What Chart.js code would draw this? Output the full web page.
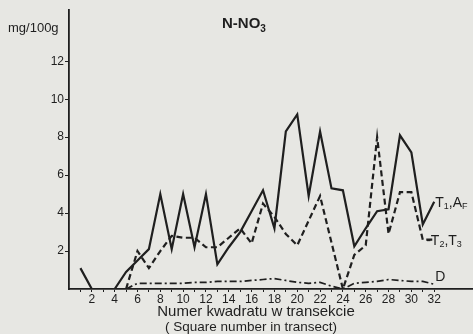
<!DOCTYPE html>
<html><head><meta charset="utf-8">
<script src="https://cdn.jsdelivr.net/npm/chart.js@4/dist/chart.umd.min.js"></script>
<style>
html,body{margin:0;padding:0;background:#e7e7e3;}
#wrap{width:473px;height:334px;position:relative;}
</style></head>
<body><div id="wrap"><canvas id="c" width="473" height="334"></canvas></div>
<script>
const squares = [1,2,3,4,5,6,7,8,9,10,11,12,13,14,15,16,17,18,19,20,21,22,23,24,25,26,27,28,29,30,31,32];
const seriesT1AF = [1.1,0,0,0,0.9,1.5,2.1,5.0,2.1,5.0,2.2,5.0,1.3,2.2,3.0,4.1,5.2,3.2,8.3,9.2,4.9,8.3,5.3,5.2,2.25,3.2,4.1,4.2,8.1,7.2,3.4,4.6];
const seriesT2T3 = [null,null,null,null,0,2.0,1.1,2.0,2.8,2.7,2.7,2.2,2.2,2.7,3.2,2.4,4.5,3.8,2.9,2.3,3.6,4.9,2.45,0,1.8,2.3,8.0,2.9,5.1,5.1,2.6,2.6];
const seriesD = [null,null,null,null,0,0.3,0.3,0.3,0.3,0.3,0.35,0.35,0.4,0.4,0.4,0.45,0.5,0.55,0.45,0.35,0.3,0.35,0.15,0,0.3,0.35,0.4,0.5,0.45,0.4,0.4,0.25];
const yTickLabels = [2,4,6,8,10,12];
const xTickLabels = [2,4,6,8,10,12,14,16,18,20,22,24,26,28,30,32];
const ink = '#1f1f1f';

function pts(arr){ return squares.map((s,i)=>({x:s,y:arr[i]})); }

const textPlugin = {
  id:'texts',
  afterDraw(chart){
    const ctx = chart.ctx, xs = chart.scales.x, ys = chart.scales.y;
    ctx.save();
    ctx.fillStyle = ink;
    ctx.textBaseline = 'middle';
    ctx.textAlign = 'left';
    ctx.font = '13px "Liberation Sans"';
    ctx.fillText('mg/100g', 8, 28);
    ctx.font = 'bold 15px "Liberation Sans"';
    ctx.fillText('N-NO', 222, 24);
    let w = ctx.measureText('N-NO').width;
    ctx.font = 'bold 10px "Liberation Sans"';
    ctx.fillText('3', 222 + w, 29);
    function sub(parts, x, y){
      let cx = x;
      parts.forEach(p=>{
        ctx.font = p.s ? '9px "Liberation Sans"' : '14px "Liberation Sans"';
        ctx.fillText(p.t, cx, y + (p.s ? 4 : 0));
        cx += ctx.measureText(p.t).width;
      });
    }
    const last = squares.length - 1;
    const x32 = xs.getPixelForValue(squares[last]);
    sub([{t:'T'},{t:'1',s:1},{t:',A'},{t:'F',s:1}], x32 + 1, ys.getPixelForValue(seriesT1AF[last]) + 1);
    sub([{t:'-T'},{t:'2',s:1},{t:',T'},{t:'3',s:1}], x32 - 8, ys.getPixelForValue(seriesT2T3[last]) + 1);
    sub([{t:'D'}], x32 + 1, ys.getPixelForValue(seriesD[last]) - 7);
    ctx.textAlign = 'center';
    ctx.font = '15px "Liberation Sans"';
    ctx.fillText('Numer kwadratu w transekcie', 256, 312);
    ctx.font = '13.5px "Liberation Sans"';
    ctx.fillText('( Square number in transect)', 251, 327);
    ctx.restore();
  }
};

new Chart(document.getElementById('c'), {
  type:'line',
  data:{
    datasets:[
      {label:'T1, AF', data:pts(seriesT1AF), borderColor:ink, borderWidth:2.2, pointRadius:0, tension:0},
      {label:'T2, T3', data:pts(seriesT2T3), borderColor:ink, borderWidth:2.2, borderDash:[6,3.5], pointRadius:0, tension:0},
      {label:'D', data:pts(seriesD), borderColor:ink, borderWidth:1.7, borderDash:[7,3,2,3], pointRadius:0, tension:0}
    ]
  },
  options:{
    responsive:false, animation:false,
    layout:{padding:{left:0,right:0,top:10,bottom:0}},
    plugins:{legend:{display:false}, tooltip:{enabled:false}},
    scales:{
      x:{
        type:'linear', min:0, max:35.4,
        afterFit(s){ s.height = 45; },
        afterBuildTicks(s){ s.ticks = squares.map(v=>({value:v})); },
        ticks:{ autoSkip:false, maxRotation:0, padding:0, color:ink,
          font:{family:'Liberation Sans', size:12},
          callback(v){ return xTickLabels.includes(v) ? String(v) : ''; } },
        grid:{ drawOnChartArea:false, drawTicks:true, tickLength:3, color:ink, tickColor:ink, lineWidth:1 },
        border:{ display:true, color:ink, width:1.8 }
      },
      y:{
        type:'linear', min:0, max:14.7,
        afterFit(s){ s.width = 69; },
        afterBuildTicks(s){ s.ticks = yTickLabels.map(v=>({value:v})); },
        ticks:{ padding:1, color:ink, font:{family:'Liberation Sans', size:12} },
        grid:{ drawOnChartArea:false, drawTicks:true, tickLength:4, tickColor:ink, lineWidth:1 },
        border:{ display:true, color:ink, width:1.8 }
      }
    }
  },
  plugins:[textPlugin]
});
</script>
</body></html>
